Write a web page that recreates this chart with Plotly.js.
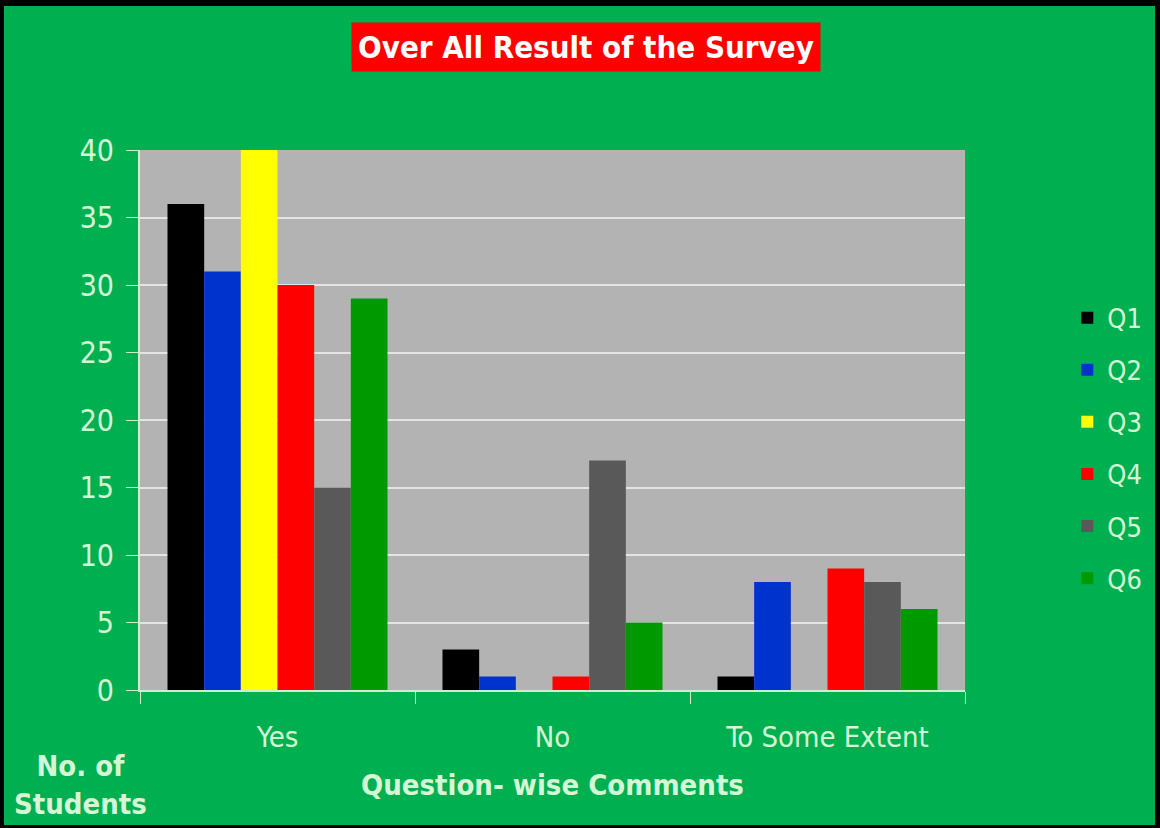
<!DOCTYPE html>
<html>
<head>
<meta charset="utf-8">
<script src="https://cdn.plot.ly/plotly-3.0.1.min.js"></script>
<style>
html,body{margin:0;padding:0;background:#000;width:1160px;height:828px;overflow:hidden;}
#plot{position:absolute;left:4px;top:6px;width:1151px;height:819px;}
</style>
</head>
<body>
<div id="plot"></div>
<script>
const categories = ["Yes", "No", "To Some Extent"];
const seriesNames = ["Q1", "Q2", "Q3", "Q4", "Q5", "Q6"];
const q1 = [36, 3, 1];
const q2 = [31, 1, 8];
const q3 = [40, 0, 0];
const q4 = [30, 1, 9];
const q5 = [15, 17, 8];
const q6 = [29, 5, 6];
const seriesValues = [q1, q2, q3, q4, q5, q6];
const colors = ["#000000", "#0033cc", "#ffff00", "#ff0000", "#595959", "#009900"];

const FONT = "'Liberation Sans Narrow', 'Arial Narrow', 'DejaVu Sans Condensed', sans-serif";
const TXT = "#d6f7d6";

const traces = seriesNames.map((n, i) => ({
  type: "bar",
  name: n,
  x: categories,
  y: seriesValues[i],
  marker: {color: colors[i], line: {width: 0}},
  legendgroup: n
}));

const layout = {
  width: 1151,
  height: 819,
  paper_bgcolor: "#00b050",
  plot_bgcolor: "#b3b3b3",
  margin: {l: 136, r: 190, t: 144, b: 135, autoexpand: false},
  bargap: 0.2,
  bargroupgap: 0,
  barmode: "group",
  font: {family: FONT, color: TXT, size: 28},
  xaxis: {
    type: "category",
    showgrid: false,
    showline: true,
    linecolor: "#cfeecf",
    linewidth: 2,
    ticks: "outside",
    tickson: "boundaries",
    ticklen: 12,
    tickcolor: "#cfeecf",
    ticklabelstandoff: 20,
    tickfont: {family: FONT, color: TXT, size: 29},
    fixedrange: true
  },
  yaxis: {
    range: [0, 40],
    dtick: 5,
    showgrid: true,
    gridcolor: "#e4e4e4",
    gridwidth: 2,
    zeroline: false,
    showline: true,
    linecolor: "#cfeecf",
    linewidth: 2,
    ticks: "outside",
    ticklen: 12,
    tickcolor: "#cfeecf",
    ticklabelstandoff: 6,
    tickfont: {family: FONT, color: TXT, size: 30},
    fixedrange: true
  },
  legend: {
    x: 1.124,
    xanchor: "left",
    y: 0.448,
    yanchor: "middle",
    font: {family: FONT, color: TXT, size: 27},
    bgcolor: "rgba(0,0,0,0)",
    traceorder: "grouped",
    tracegroupgap: 14,
    itemwidth: 30
  },
  annotations: [
    {
      text: "<b>Over All Result of the Survey</b>",
      xref: "paper", yref: "paper",
      x: 0.5406, y: 1.1907, xanchor: "center", yanchor: "middle",
      showarrow: false,
      font: {family: FONT, color: "#ffffff", size: 31},
      bgcolor: "#ff0000",
      borderpad: 6
    },
    {
      text: "<b>No. of<br>Students</b>",
      xref: "paper", yref: "paper",
      x: -0.0727, y: -0.176, xanchor: "center", yanchor: "middle",
      showarrow: false,
      font: {family: FONT, color: TXT, size: 29}
    },
    {
      text: "<b>Question- wise Comments</b>",
      xref: "paper", yref: "paper",
      x: 0.5006, y: -0.176, xanchor: "center", yanchor: "middle",
      showarrow: false,
      font: {family: FONT, color: TXT, size: 29}
    }
  ],
  showlegend: true
};

Plotly.newPlot("plot", traces, layout, {displayModeBar: false, staticPlot: true});
</script>
</body>
</html>
